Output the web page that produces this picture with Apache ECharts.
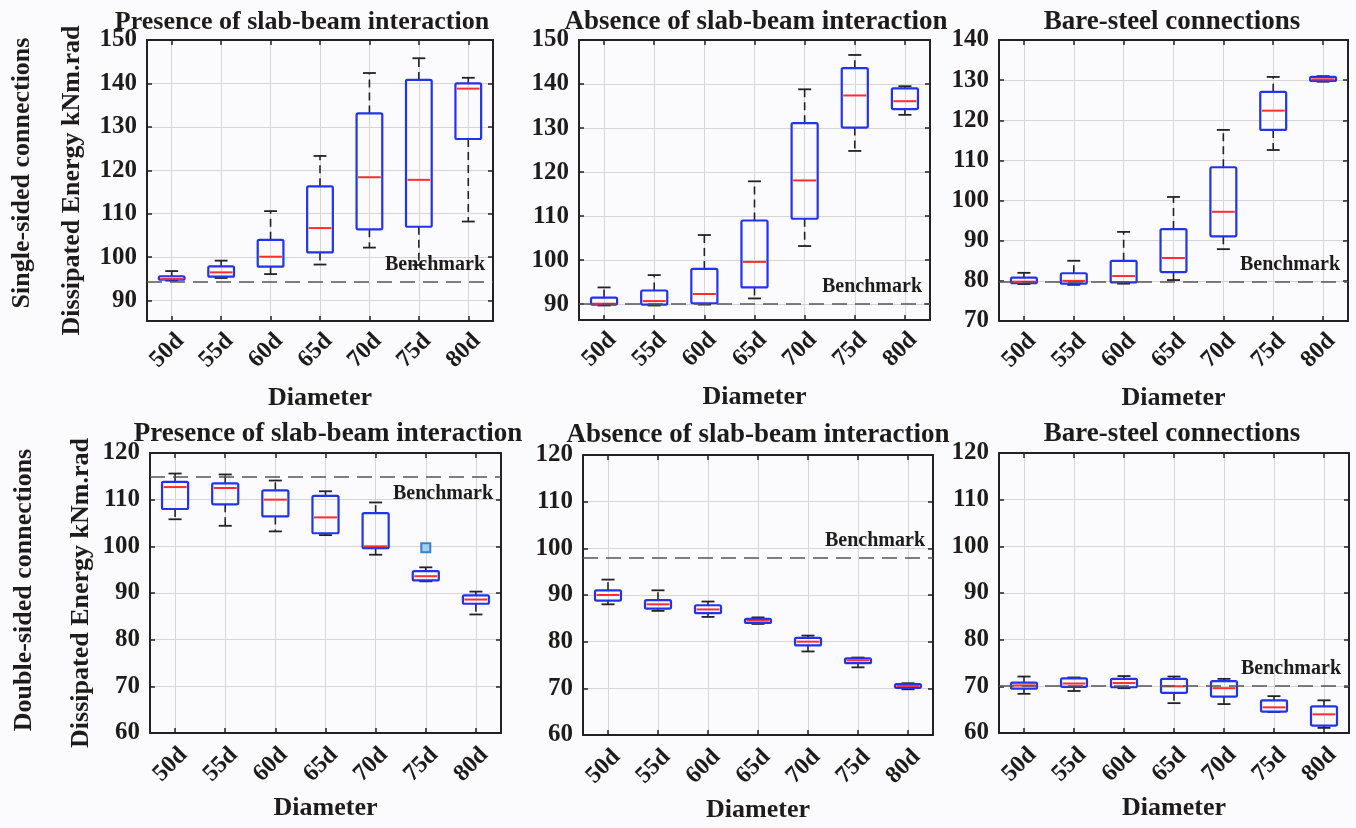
<!DOCTYPE html>
<html>
<head>
<meta charset="utf-8">
<script src="https://cdn.jsdelivr.net/npm/echarts@6/dist/echarts.min.js"></script>
<style>
  html, body { margin: 0; padding: 0; background: #fbfbfd; }
  #chart { width: 1356px; height: 828px; }
</style>
</head>
<body>
<div id="chart"></div>
<script>
// ---- data ---------------------------------------------------------------
const categories = ['50d', '55d', '60d', '65d', '70d', '75d', '80d'];

// each box: [lower whisker, Q1, median, Q3, upper whisker]
const singlePresence = [
  [94.6, 94.8, 95.0, 95.6, 96.8],
  [95.2, 95.5, 96.5, 97.9, 99.2],
  [96.1, 97.8, 100.1, 104.0, 110.6],
  [98.3, 101.1, 106.7, 116.3, 123.3],
  [102.2, 106.4, 118.4, 133.1, 142.4],
  [98.2, 107.0, 117.8, 140.8, 145.8],
  [108.2, 127.2, 138.8, 140.0, 141.3]
];
const singleAbsence = [
  [89.7, 89.9, 90.1, 91.5, 93.8],
  [89.7, 89.9, 90.7, 93.1, 96.6],
  [89.9, 90.2, 92.3, 98.0, 105.7],
  [91.3, 93.8, 99.6, 109.0, 117.9],
  [103.2, 109.4, 118.1, 131.1, 138.8],
  [124.8, 130.1, 137.4, 143.6, 146.6],
  [133.0, 134.3, 136.1, 139.0, 139.5]
];
const singleBare = [
  [79.2, 79.4, 79.8, 80.8, 82.0],
  [79.0, 79.3, 80.0, 81.9, 85.0],
  [79.3, 79.6, 81.2, 85.0, 92.2],
  [80.2, 82.2, 85.7, 92.9, 100.9],
  [87.9, 91.1, 97.2, 108.3, 117.6],
  [112.6, 117.6, 122.4, 127.1, 130.8],
  [129.6, 129.8, 130.2, 130.8, 131.0]
];
const doublePresence = [
  [105.8, 108.0, 112.7, 113.8, 115.6],
  [104.4, 109.0, 112.5, 113.5, 115.4],
  [103.2, 106.4, 110.0, 112.0, 114.1],
  [102.4, 102.8, 106.2, 110.8, 111.8],
  [98.2, 99.6, 100.0, 107.1, 109.4],
  [92.5, 92.7, 93.6, 94.7, 95.5],
  [85.4, 87.7, 88.6, 89.5, 90.3]
];
const doublePresenceOutliers = [[6, 99.7]];
const doubleAbsence = [
  [88.0, 88.8, 90.0, 91.0, 93.3],
  [86.6, 87.1, 88.0, 88.9, 91.0],
  [85.3, 86.1, 86.9, 87.8, 88.6],
  [83.8, 84.0, 84.5, 84.9, 85.2],
  [77.9, 79.2, 80.0, 80.8, 81.3],
  [74.5, 75.4, 76.0, 76.4, 76.6],
  [69.8, 70.1, 70.5, 70.9, 71.1]
];
const doubleBare = [
  [68.4, 69.5, 70.2, 70.8, 72.1],
  [69.0, 69.9, 70.6, 71.7, 71.9],
  [69.6, 69.8, 70.7, 71.6, 72.2],
  [66.4, 68.6, 70.0, 71.6, 72.1],
  [66.2, 67.8, 69.6, 71.1, 71.6],
  [64.5, 64.6, 65.5, 67.0, 67.9],
  [61.1, 61.6, 64.0, 65.7, 67.0]
];

// benchmark levels
const benchmarks = [94.4, 90.0, 79.7, 115.0, 98.0, 70.2];

// tick labels
const ticksSinglePresence = [90, 100, 110, 120, 130, 140, 150];
const ticksSingleAbsence = [90, 100, 110, 120, 130, 140, 150];
const ticksSingleBare = [70, 80, 90, 100, 110, 120, 130, 140];
const ticksDouble = [60, 70, 80, 90, 100, 110, 120];
const xTickValues = [1, 2, 3, 4, 5, 6, 7];

const titles = [
  'Presence of slab-beam interaction', 'Absence of slab-beam interaction', 'Bare-steel connections',
  'Presence of slab-beam interaction', 'Absence of slab-beam interaction', 'Bare-steel connections'
];
const rowLabels = ['Single-sided connections', 'Double-sided connections'];
const yName = 'Dissipated Energy kNm.rad';
const xName = 'Diameter';

// ---- layout / style -----------------------------------------------------
const FONT = '"Liberation Serif", "Times New Roman", serif';
const INK = '#1e1b1b';

const panels = [
  { grid: { left: 147, top: 40, width: 346, height: 281 }, yMin: 85.3, yMax: 150, ticks: ticksSinglePresence, boxes: singlePresence, benchLabel: 'insideEndTop', yName: true, xGap: 64 },
  { grid: { left: 579, top: 40, width: 351, height: 280 }, yMin: 86.4, yMax: 150, ticks: ticksSingleAbsence, boxes: singleAbsence, benchLabel: 'insideEndTop', xGap: 64 },
  { grid: { left: 999, top: 40, width: 349, height: 281 }, yMin: 70, yMax: 140, ticks: ticksSingleBare, boxes: singleBare, benchLabel: 'insideEndTop', xGap: 64 },
  { grid: { left: 150, top: 453, width: 351, height: 280 }, yMin: 60, yMax: 120, ticks: ticksDouble, boxes: doublePresence, benchLabel: 'insideEndBottom', yName: true, xGap: 62, outliers: doublePresenceOutliers },
  { grid: { left: 583, top: 455, width: 350, height: 280 }, yMin: 60, yMax: 120, ticks: ticksDouble, boxes: doubleAbsence, benchLabel: 'insideEndTop', xGap: 62 },
  { grid: { left: 999, top: 453, width: 350, height: 280 }, yMin: 60, yMax: 120, ticks: ticksDouble, boxes: doubleBare, benchLabel: 'insideEndTop', xGap: 62 }
];

const titlePos = [[302, 22], [756, 22], [1172, 22], [328, 434], [758, 435], [1172, 434]];
const titleSize = [26, 27, 27, 27, 27, 27];
const rowLabelPos = [[22, 173], [24, 590]];

const textBase = { fontFamily: FONT, fontWeight: 'bold', color: INK };

function renderBox(params, api) {
  const x = api.value(0);
  const pLo = api.coord([x, api.value(1)]);
  const pQ1 = api.coord([x, api.value(2)]);
  const pMed = api.coord([x, api.value(3)]);
  const pQ3 = api.coord([x, api.value(4)]);
  const pHi = api.coord([x, api.value(5)]);
  const band = api.size([1, 0])[0];
  const bw = band * 0.52;
  const cw = band * 0.26;
  const cx = pMed[0];
  const whisker = { stroke: '#222', lineWidth: 1.6, lineDash: [8, 5] };
  const cap = { stroke: '#222', lineWidth: 1.8 };
  return {
    type: 'group',
    children: [
      { type: 'line', shape: { x1: cx, y1: pQ3[1], x2: cx, y2: pHi[1] }, style: whisker },
      { type: 'line', shape: { x1: cx, y1: pQ1[1], x2: cx, y2: pLo[1] }, style: whisker },
      { type: 'line', shape: { x1: cx - cw / 2, y1: pHi[1], x2: cx + cw / 2, y2: pHi[1] }, style: cap },
      { type: 'line', shape: { x1: cx - cw / 2, y1: pLo[1], x2: cx + cw / 2, y2: pLo[1] }, style: cap },
      { type: 'rect', shape: { x: cx - bw / 2, y: pQ3[1], width: bw, height: Math.max(pQ1[1] - pQ3[1], 1), r: 1.5 },
        style: { fill: 'none', stroke: '#2233ee', lineWidth: 2.2 } },
      { type: 'line', shape: { x1: cx - bw / 2 + 1.5, y1: pMed[1], x2: cx + bw / 2 - 1.5, y2: pMed[1] },
        style: { stroke: '#ff2d2d', lineWidth: 2 } }
    ]
  };
}

const grids = [], xAxes = [], yAxes = [], series = [];
const axisLineStyle = { color: '#222', width: 2 };
const tickStyle = { color: '#222', width: 1.5 };

panels.forEach((p, i) => {
  grids.push(Object.assign({ containLabel: false }, p.grid));
  // bottom axis with labels, top axis as frame
  xAxes.push({
    gridIndex: i, type: 'value', min: 0.5, max: 7.5, position: 'bottom',
    axisLine: { show: true, onZero: false, lineStyle: axisLineStyle },
    axisTick: { show: true, inside: true, length: 5, customValues: xTickValues, lineStyle: tickStyle },
    axisLabel: Object.assign({ customValues: xTickValues, rotate: 45, margin: i < 3 ? 8 : 10, fontSize: 24,
      verticalAlign: 'top', formatter: v => categories[Math.round(v) - 1] }, textBase),
    splitLine: { show: true, lineStyle: { color: '#d6d6d6', width: 1 } },
    name: xName, nameLocation: 'middle', nameGap: p.xGap, nameMoveOverlap: false,
    nameTextStyle: Object.assign({ fontSize: 26 }, textBase)
  });
  xAxes.push({
    gridIndex: i, type: 'value', min: 0.5, max: 7.5, position: 'top',
    axisLine: { show: true, onZero: false, lineStyle: axisLineStyle },
    axisTick: { show: true, inside: true, length: 5, customValues: xTickValues, lineStyle: tickStyle },
    axisLabel: { show: false }, splitLine: { show: false }
  });
  const yLeft = {
    gridIndex: i, type: 'value', min: p.yMin, max: p.yMax, position: 'left',
    axisLine: { show: true, onZero: false, lineStyle: axisLineStyle },
    axisTick: { show: true, inside: true, length: 5, customValues: p.ticks, lineStyle: tickStyle },
    axisLabel: Object.assign({ customValues: p.ticks, margin: 10, fontSize: 25 }, textBase),
    splitLine: { show: true, lineStyle: { color: '#d6d6d6', width: 1 } }
  };
  if (p.yName) {
    Object.assign(yLeft, {
      name: yName, nameLocation: 'middle', nameRotate: 90, nameGap: i < 3 ? 62 : 56, nameMoveOverlap: false,
      nameTextStyle: Object.assign({ fontSize: 26 }, textBase)
    });
  }
  yAxes.push(yLeft);
  yAxes.push({
    gridIndex: i, type: 'value', min: p.yMin, max: p.yMax, position: 'right',
    axisLine: { show: true, onZero: false, lineStyle: axisLineStyle },
    axisTick: { show: true, inside: true, length: 5, customValues: p.ticks, lineStyle: tickStyle },
    axisLabel: { show: false }, splitLine: { show: false }
  });

  series.push({
    type: 'custom', xAxisIndex: 2 * i, yAxisIndex: 2 * i,
    renderItem: renderBox,
    encode: { x: 0, y: [1, 2, 3, 4, 5] },
    data: p.boxes.map((b, k) => [k + 1].concat(b)),
    z: 3,
    markLine: {
      silent: true, symbol: ['none', 'none'], animation: false,
      lineStyle: { type: [15, 8], color: '#555', width: 1.6 },
      label: Object.assign({ show: true, position: p.benchLabel, formatter: 'Benchmark',
        fontSize: 20, distance: [8, 7] }, textBase),
      emphasis: { disabled: true },
      data: [{ yAxis: benchmarks[i] }]
    }
  });

  if (p.outliers) {
    series.push({
      type: 'scatter', xAxisIndex: 2 * i, yAxisIndex: 2 * i,
      symbol: 'rect', symbolSize: 9, z: 4,
      itemStyle: { color: '#8fcaf0', borderColor: '#1763c2', borderWidth: 2 },
      data: p.outliers
    });
  }
});

const graphics = [];
titles.forEach((t, i) => {
  graphics.push({
    type: 'text', x: titlePos[i][0], y: titlePos[i][1],
    style: { text: t, fill: INK, font: `bold ${titleSize[i]}px ${FONT}`, textAlign: 'center', textVerticalAlign: 'middle' }
  });
});
rowLabels.forEach((t, i) => {
  graphics.push({
    type: 'text', x: rowLabelPos[i][0], y: rowLabelPos[i][1], rotation: Math.PI / 2,
    style: { text: t, fill: INK, font: `bold 26px ${FONT}`, textAlign: 'center', textVerticalAlign: 'middle' }
  });
});

const chart = echarts.init(document.getElementById('chart'), null, { renderer: 'canvas' });
chart.setOption({
  animation: false,
  backgroundColor: '#fbfbfd',
  grid: grids,
  xAxis: xAxes,
  yAxis: yAxes,
  series: series,
  graphic: graphics
});
</script>
</body>
</html>
